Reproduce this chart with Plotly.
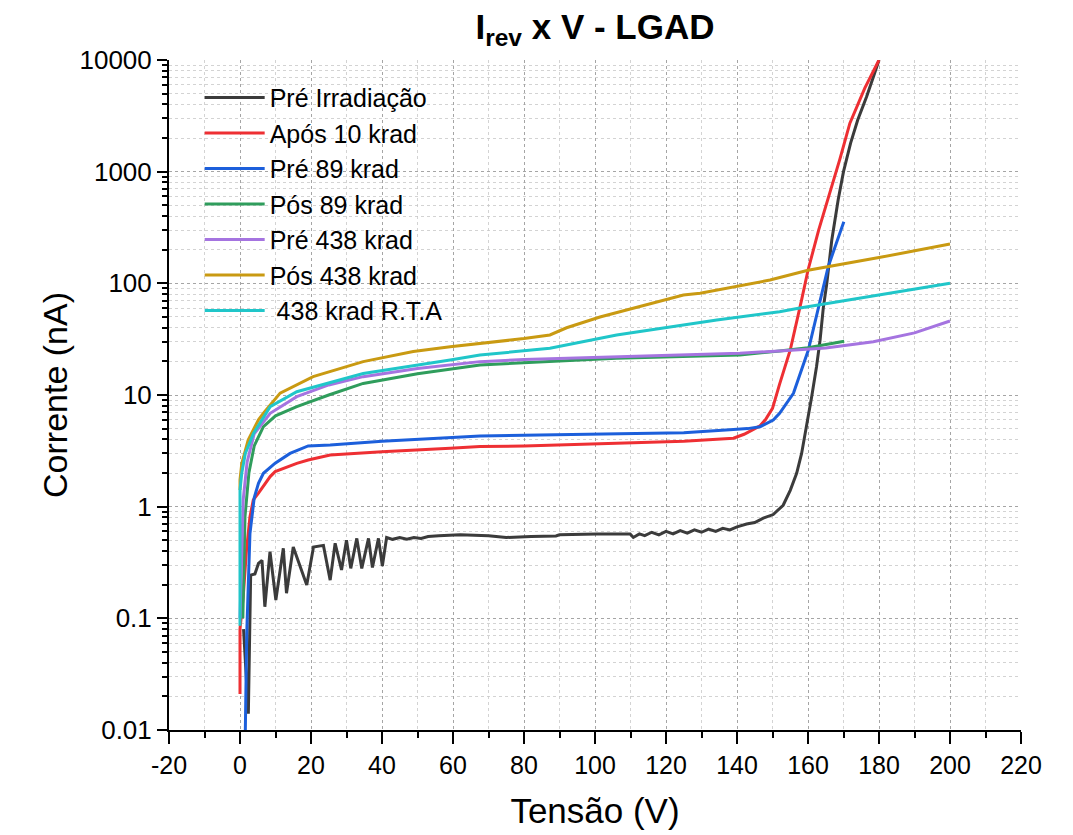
import plotly.graph_objects as go

# ---------------- data ----------------
pre_irr_v = [1.0, 1.8, 2.35, 3.0, 4.2, 5.2, 6.2, 7.0, 8.45, 10.1, 12.2, 13.1, 15.0, 16.8, 18.8, 20.7,
             23.5, 25.4, 26.8, 28.6, 30.0, 31.2, 32.9, 34.3, 36.2, 37.3, 39.0, 40.1, 41.3, 43.0,
             45.0, 47.0, 49.0, 51.0, 53.0, 56.0, 62.0, 70.0, 75.0, 82.0, 89.0, 90.0, 100.5, 109.9,
             110.8, 112.5, 114.0, 116.0, 118.0, 120.0, 122.0, 124.0, 126.0, 128.0, 130.0, 132.0,
             134.0, 136.0, 138.0, 140.0, 142.7, 145.0, 147.4, 150.2, 152.0, 153.0, 155.0, 156.8,
             158.2, 159.6, 161.0, 162.4, 163.4, 164.3, 165.3, 166.7, 168.5, 170.0, 172.0, 174.0,
             176.5, 178.5, 180.0]
pre_irr_i = [0.08, 0.03, 0.014, 0.244, 0.25, 0.31, 0.33, 0.127, 0.395, 0.146, 0.424, 0.168, 0.435, 0.30, 0.199, 0.435,
             0.45, 0.22, 0.47, 0.271, 0.50, 0.28, 0.52, 0.28, 0.52, 0.285, 0.52, 0.294, 0.53, 0.51,
             0.53, 0.51, 0.53, 0.52, 0.54, 0.55, 0.56, 0.55, 0.53, 0.54, 0.546, 0.56, 0.57, 0.57,
             0.53, 0.57, 0.55, 0.59, 0.56, 0.60, 0.57, 0.61, 0.58, 0.62, 0.59, 0.63, 0.60,
             0.64, 0.62, 0.66, 0.70, 0.72, 0.79, 0.85, 0.97, 1.03, 1.4, 1.99,
             3.0, 5.2, 9.5, 17.9, 31.0, 60.0, 100.0, 244.0, 560.0, 1000.0, 1800.0, 2900.0,
             4690.0, 7200.0, 10000.0]

apos10_v = [0.0, 0.0, 0.3, 0.9, 1.8, 2.8, 3.75, 5.2, 8.5, 9.9, 16.0, 19.2, 25.4, 40.0, 59.2, 67.6, 80.0,
            106.1, 125.0, 139.0, 142.0, 144.5, 146.5, 148.0, 150.0, 152.0, 155.0, 158.2, 160.0, 163.0,
            166.2, 169.0, 171.8, 176.0, 180.0]
apos10_i = [0.021, 0.08, 0.10, 0.156, 0.40, 0.81, 1.15, 1.32, 1.86, 2.06, 2.44, 2.62, 2.90, 3.10, 3.33, 3.45, 3.50,
            3.70, 3.85, 4.10, 4.45, 4.9, 5.3, 6.0, 7.6, 12.5, 25.3, 71.0, 131.0, 300.0,
            640.0, 1300.0, 2720.0, 5600.0, 10000.0]

pre89_v = [1.4, 1.9, 2.8, 4.0, 5.2, 6.6, 9.9, 14.1, 19.2, 25.4, 40.0, 59.2, 67.6, 80.0, 106.1, 125.0,
           139.0, 143.0, 146.5, 150.2, 152.0, 155.9, 160.1, 163.4, 165.7, 168.0, 170.1]
pre89_i = [0.006, 0.073, 0.57, 1.20, 1.62, 1.99, 2.45, 3.00, 3.50, 3.57, 3.85, 4.18, 4.30, 4.35, 4.48, 4.60,
           4.90, 5.00, 5.20, 5.97, 6.86, 10.35, 25.3, 71.0, 141.0, 230.0, 356.0]

pos89_v = [0.8, 1.4, 2.5, 4.0, 6.6, 10.0, 16.0, 25.0, 34.7, 50.0, 67.6, 80.0, 106.0, 130.0, 140.8, 152.0, 160.0, 170.2]
pos89_i = [0.10, 0.81, 2.0, 3.5, 5.2, 6.5, 7.86, 10.0, 12.7, 15.5, 18.6, 19.5, 21.3, 22.3, 22.8, 24.8, 26.5, 30.3]

pre438_v = [0.0, 0.5, 0.9, 2.0, 4.0, 8.5, 16.0, 25.0, 34.7, 50.0, 67.6, 80.0, 106.1, 130.0, 140.8, 152.0,
            165.0, 178.4, 190.0, 200.0]
pre438_i = [0.10, 0.50, 1.15, 2.5, 4.5, 6.86, 9.66, 12.3, 14.6, 17.3, 19.9, 20.8, 22.0, 23.2, 23.7, 24.8,
            26.3, 30.0, 36.0, 46.0]

pos438_v = [0.0, 0.0, 0.5, 2.3, 5.2, 6.6, 11.3, 20.6, 34.7, 48.8, 59.2, 67.6, 80.0, 87.3, 92.0, 101.4,
            124.9, 129.6, 149.3, 160.0, 180.0, 200.0]
pos438_i = [1.41, 1.74, 2.44, 3.95, 6.0, 6.86, 10.4, 14.6, 19.9, 24.5, 27.1, 29.0, 32.0, 34.5, 40.0, 50.0,
            78.7, 81.5, 107.0, 131.0, 170.0, 225.0]

rta_v = [0.0, 0.0, 0.5, 1.5, 3.75, 8.5, 16.0, 34.7, 59.2, 67.6, 87.3, 106.1, 134.3, 152.0, 157.3, 180.0, 200.0]
rta_i = [0.086, 1.41, 2.0, 3.0, 4.5, 7.86, 10.7, 15.6, 20.6, 22.8, 26.2, 34.5, 47.0, 55.7, 59.7, 78.0, 100.0]

series = [
    ("Pré Irradiação", pre_irr_v, pre_irr_i, "#3b3b3b"),
    ("Após 10 krad", apos10_v, apos10_i, "#ee2f33"),
    ("Pré 89 krad", pre89_v, pre89_i, "#1c5fdb"),
    ("Pós 89 krad", pos89_v, pos89_i, "#2f9d5c"),
    ("Pré 438 krad", pre438_v, pre438_i, "#a574e0"),
    ("Pós 438 krad", pos438_v, pos438_i, "#c99a12"),
    (" 438 krad R.T.A", rta_v, rta_i, "#20c6c9"),
]

y_tickvals = [0.01, 0.1, 1, 10, 100, 1000, 10000]
y_ticktext = ["0.01", "0.1", "1", "10", "100", "1000", "10000"]
x_tickvals = [-20, 0, 20, 40, 60, 80, 100, 120, 140, 160, 180, 200, 220]
x_ticktext = ["-20", "0", "20", "40", "60", "80", "100", "120", "140", "160", "180", "200", "220"]

# ---------------- figure ----------------
FONT = "Liberation Sans, Arial, sans-serif"
fig = go.Figure()
for name, v, i, c in series:
    fig.add_trace(go.Scatter(x=v, y=i, mode="lines", name=name,
                             line=dict(color=c, width=3)))

grid_major = "rgba(160,160,160,0.9)"
grid_minor = "rgba(200,200,200,0.8)"

fig.update_layout(
    width=1073, height=835,
    paper_bgcolor="white", plot_bgcolor="white",
    margin=dict(l=169, r=52, t=60, b=105),
    font=dict(family=FONT, color="black", size=22),
    title=dict(text="<b>I<sub>rev</sub> x V - LGAD</b>", x=0.5545, xanchor="center",
               y=0.968, yanchor="middle", font=dict(size=35, family=FONT)),
    showlegend=True,
    legend=dict(x=0.036, y=0.978, xanchor="left", yanchor="top",
                bgcolor="rgba(0,0,0,0)", borderwidth=0,
                font=dict(size=25, family=FONT), itemwidth=60, tracegroupgap=0),
    xaxis=dict(
        range=[-20, 220], tickvals=x_tickvals, ticktext=x_ticktext, ticks="outside", ticklen=12, tickwidth=2,
        tickcolor="black", showline=True, linecolor="black", linewidth=2, mirror=False,
        showgrid=True, gridcolor=grid_major, griddash="dot", gridwidth=1, zeroline=False,
        tickfont=dict(size=25), title=dict(text="Tensão (V)", font=dict(size=35), standoff=20),
        minor=dict(dtick=10, tick0=0, ticks="outside", ticklen=6, tickwidth=2, tickcolor="black",
                   showgrid=True, gridcolor=grid_minor, griddash="dot", gridwidth=1),
    ),
    yaxis=dict(
        type="log", range=[-2, 4], tickvals=y_tickvals, ticktext=y_ticktext,
        ticks="outside", ticklen=10, tickwidth=2, tickcolor="black",
        showline=True, linecolor="black", linewidth=2, mirror=False,
        showgrid=True, gridcolor=grid_major, griddash="dot", gridwidth=1, zeroline=False,
        tickfont=dict(size=26), title=dict(text="Corrente (nA)", font=dict(size=34), standoff=2),
        minor=dict(dtick="D1", ticks="outside", ticklen=5, tickwidth=1.5, tickcolor="black",
                   showgrid=True, gridcolor=grid_minor, griddash="dot", gridwidth=1),
    ),
    xaxis2=dict(
        overlaying="x", side="top", anchor="y", matches="x", range=[-20, 220],
        tickvals=x_tickvals, ticks="inside", ticklen=12, tickwidth=2, tickcolor="black",
        showticklabels=False, showline=True, linecolor="black", linewidth=2, showgrid=False,
        zeroline=False,
        minor=dict(dtick=10, tick0=0, ticks="inside", ticklen=6, tickwidth=2, tickcolor="black",
                   showgrid=False),
    ),
    yaxis2=dict(
        overlaying="y", side="right", anchor="x", type="log", range=[-2, 4],
        tickvals=y_tickvals, ticks="inside", ticklen=10, tickwidth=2, tickcolor="black",
        showticklabels=False, showline=True, linecolor="black", linewidth=2, showgrid=False,
        zeroline=False,
        minor=dict(dtick="D1", ticks="inside", ticklen=5, tickwidth=1.5, tickcolor="black",
                   showgrid=False),
    ),
)

fig.write_html("out.html")
